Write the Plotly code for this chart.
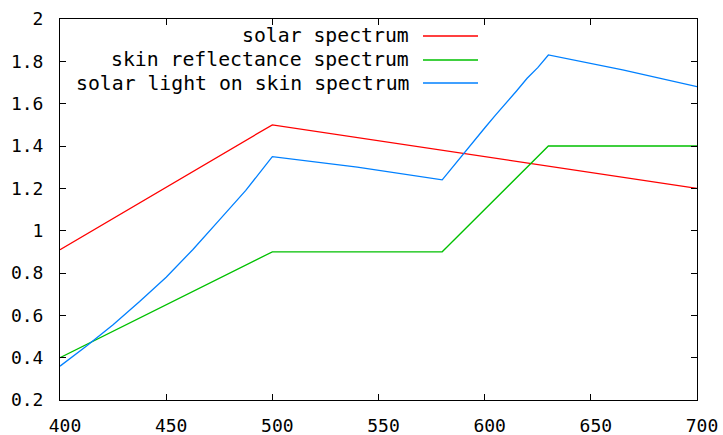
import plotly.graph_objects as go

# data
solar_x = [400, 500, 700]
solar_y = [0.91, 1.50, 1.20]

skin_x = [400, 500, 580, 630, 700]
skin_y = [0.40, 0.90, 0.90, 1.40, 1.40]

light_x = [400, 412.5, 425, 437.5, 450, 462.5, 475, 487.5, 500, 540, 580,
           590, 595, 600, 605, 610, 615, 620, 625, 630, 665, 700]
light_y = [0.36, 0.455, 0.555, 0.665, 0.78, 0.91, 1.05, 1.19, 1.35, 1.30, 1.24,
           1.365, 1.425, 1.485, 1.545, 1.60, 1.66, 1.72, 1.77, 1.83, 1.76, 1.68]

names = ["solar spectrum", "skin reflectance spectrum", "solar light on skin spectrum"]
colors = ["#ff0000", "#00c000", "#0080ff"]

x_ticks = [400, 450, 500, 550, 600, 650, 700]
y_ticks = [0.2, 0.4, 0.6, 0.8, 1.0, 1.2, 1.4, 1.6, 1.8, 2.0]
y_labels = ["0.2", "0.4", "0.6", "0.8", "1", "1.2", "1.4", "1.6", "1.8", "2"]

FONT = "DejaVu Sans Mono"
W, H = 723, 435
ML, MR, MT, MB = 60, 26, 19, 35
pw, ph = W - ML - MR, H - MT - MB

fig = go.Figure()
series = [(solar_x, solar_y), (skin_x, skin_y), (light_x, light_y)]
for (xs, ys), nm, c in zip(series, names, colors):
    fig.add_trace(go.Scatter(x=xs, y=ys, mode="lines", name=nm,
                             line=dict(color=c, width=1.3), showlegend=False))

# manual gnuplot-style legend (text left of sample)
def px2paper_x(px):
    return (px - ML) / pw

def px2paper_y(py):
    return 1 - (py - MT) / ph

rows_y = [36, 60, 83]
for nm, c, ry in zip(names, colors, rows_y):
    fig.add_annotation(x=px2paper_x(411), y=px2paper_y(ry), xref="paper", yref="paper",
                       text=nm, showarrow=False, xanchor="right", yanchor="middle",
                       font=dict(family=FONT, size=19.8, color="#000000"))
    fig.add_shape(type="line", xref="paper", yref="paper",
                  x0=px2paper_x(423), x1=px2paper_x(478),
                  y0=px2paper_y(ry), y1=px2paper_y(ry),
                  line=dict(color=c, width=1.3))

axis_common = dict(showgrid=False, zeroline=False, showline=True, linecolor="#000000",
                   linewidth=1, mirror="ticks", ticks="inside", ticklen=6,
                   tickcolor="#000000", tickwidth=1, automargin=False,
                   tickfont=dict(family=FONT, size=18, color="#000000"))

fig.update_xaxes(range=[400, 700], tickvals=x_ticks, ticktext=[str(v) for v in x_ticks],
                 ticklabelstandoff=9, ticklabelshift=5, **axis_common)
fig.update_yaxes(range=[0.2, 2.0], tickvals=y_ticks, ticktext=y_labels,
                 ticklabelstandoff=12, **axis_common)

fig.update_layout(width=W, height=H, margin=dict(l=ML, r=MR, t=MT, b=MB),
                  paper_bgcolor="#ffffff", plot_bgcolor="#ffffff")

fig.write_html("out.html")
